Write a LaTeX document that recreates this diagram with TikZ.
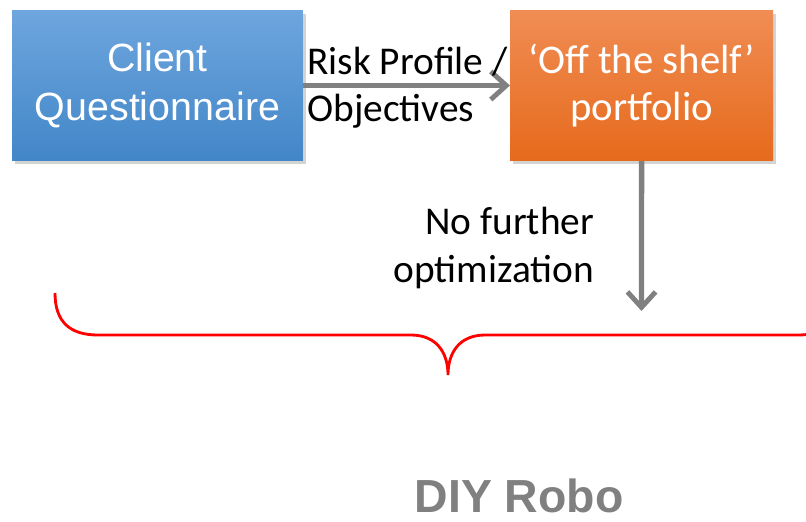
\documentclass[tikz,border=0pt]{standalone}
\usepackage{fontspec}
\setmainfont{Carlito}
\newfontfamily\arialfont{Liberation Sans}
\usetikzlibrary{arrows.meta,positioning,shadows}

\tikzset{
  box/.style={rectangle, minimum width=#1, minimum height=3.77cm, text=white,
    align=center, drop shadow={opacity=0.35, shadow xshift=2pt, shadow yshift=-2.5pt}},
  flow/.style={draw=gray, line width=3.8pt, -{Straight Barb[length=11pt, width=20pt, line width=3.5pt]}},
  lbl/.style={font=\fontsize{28}{34}\selectfont, inner sep=2pt}
}

\begin{document}
\begin{tikzpicture}[x=0.025cm, y=-0.025cm, node distance=12.1cm, on grid]
  \useasboundingbox (0,0) rectangle (806,521);
  \node[box=7.27cm, top color={rgb,255:red,110;green,166;blue,222}, bottom color={rgb,255:red,66;green,134;blue,200},
        font=\arialfont\fontsize{28}{35}\selectfont] (client) at (157.5,85.5) {Client\\Questionnaire};
  \node[box=6.57cm, top color={rgb,255:red,240;green,141;blue,84}, bottom color={rgb,255:red,230;green,106;blue,28},
        font=\fontsize{29}{33}\selectfont] [right=of client] (shelf) {`Off the shelf'\\portfolio};
  \coordinate (tip) at (641.5,311);

  \draw[flow] (client) -- (shelf)
    node[lbl, pos=0, above right, inner xsep=1pt, yshift=3pt] {Risk Profile /}
    node[lbl, pos=0, below right, inner xsep=1pt, yshift=-2pt] {Objectives};
  \draw[flow] (shelf) -- (tip)
    node[lbl, pos=0.58, left=1.05cm, align=right] {No further\\optimization};

  % red brace
  \draw[red, line width=2pt] (55,293) .. controls (55,322) and (70,335) .. (98,335) -- (411,335)
    .. controls (436,335) and (448,352) .. (448,375) .. controls (448,352) and (460,335) .. (485,335)
    -- (798,335) .. controls (826,335) and (841,322) .. (841,293);

  \node[font=\arialfont\bfseries\fontsize{33}{38}\selectfont, text=gray] (robo) at (519,496) {DIY Robo};
\end{tikzpicture}
\end{document}
